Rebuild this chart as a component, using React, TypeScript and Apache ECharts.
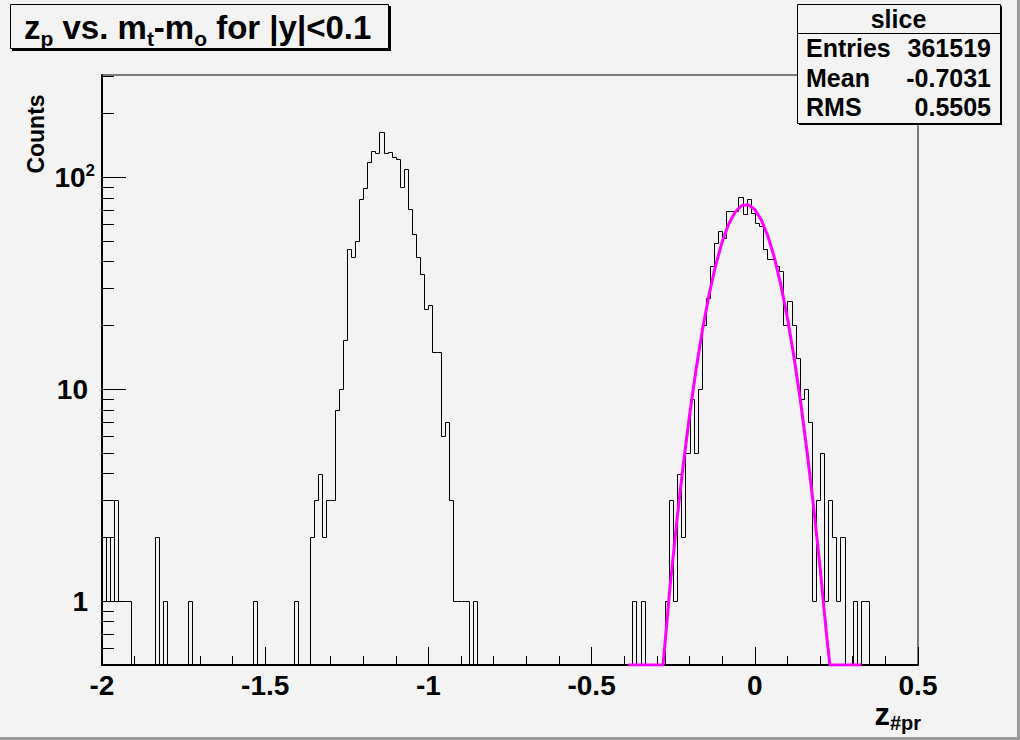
import React, { useEffect, useRef } from 'react';
import * as echarts from 'echarts';

// ---- data ----
const xMin = -2;
const xMax = 0.5;
const binWidth = 0.0125;
const counts = [
  1, 2, 1, 3, 1, 1, 1, 0, 0, 0,
  0, 0, 0, 2, 0, 1, 0, 0, 0, 0,
  0, 1, 0, 0, 0, 0, 0, 0, 0, 0,
  0, 0, 0, 0, 0, 0, 0, 1, 0, 0,
  0, 0, 0, 0, 0, 0, 0, 1, 0, 0,
  0, 2, 3, 4, 2, 3, 3, 8, 10, 17,
  46, 42, 50, 79, 89, 118, 133, 130, 164, 130,
  131, 125, 122, 90, 110, 71, 54, 42, 35, 24,
  25, 15, 15, 6, 7, 3, 1, 1, 1, 1,
  0, 1, 0, 0, 0, 0, 0, 0, 0, 0,
  0, 0, 0, 0, 0, 0, 0, 0, 0, 0,
  0, 0, 0, 0, 0, 0, 0, 0, 0, 0,
  0, 0, 0, 0, 0, 0, 0, 0, 0, 0,
  1, 0, 1, 0, 0, 0, 0, 0, 1, 3,
  1, 4, 2, 5, 9, 5, 10, 20, 27, 38,
  49, 56, 52, 69, 69, 69, 81, 67, 79, 68,
  61, 59, 46, 41, 41, 38, 36, 20, 26, 20,
  14, 9, 10, 7, 1, 3, 5, 1, 3, 2,
  1, 2, 0, 0, 1, 0, 1, 1, 0, 0,
  0, 0, 0, 0, 0, 0, 0, 0, 0, 0,
];
const fitX = [-0.388, -0.281, -0.26, -0.24, -0.22, -0.2, -0.18, -0.16, -0.14, -0.12, -0.1, -0.08, -0.06, -0.04, -0.02, 0.0, 0.02, 0.04, 0.06, 0.08, 0.1, 0.12, 0.14, 0.16, 0.18, 0.2, 0.22, 0.23, 0.327];
const fitY = [0.5, 0.5, 1.16, 2.3, 4.3, 7.5, 12.4, 19.2, 28, 38.4, 49.6, 60.2, 68.6, 73.6, 74.3, 70.5, 63, 52.9, 41.8, 31, 21.7, 14.2, 8.8, 5.1, 2.8, 1.44, 0.69, 0.5, 0.5];
const yMin = 0.5;
const yMax = 304;
const yMajorTicks = [1, 10, 100];
const yMinorTicks = [0.6, 0.7, 0.8, 0.9, 2, 3, 4, 5, 6, 7, 8, 9, 20, 30, 40, 50, 60, 70, 80, 90, 200, 300];
const statNames = ['Entries', 'Mean', 'RMS'];
const statValues = ['361519', '-0.7031', '0.5505'];
const statsTitle = 'slice';

const BG = '#f3f3f3';
const FONT = 'Liberation Sans, Arial, sans-serif';

export default function App() {
  const ref = useRef<HTMLDivElement>(null);
  useEffect(() => {
    if (!ref.current) return;
    const chart = echarts.init(ref.current, null, { renderer: 'svg' });
    const n = counts.length;
    const histData = counts.map((c, i) => [
      xMin + i * binWidth,
      xMin + (i + 1) * binWidth,
      c,
      i > 0 ? counts[i - 1] : 0,
      i === n - 1 ? 1 : 0,
    ]);
    const px = (v: number) => Math.round(v) + 0.5;

    const statsLeft = 797;
    const statsTop = 4;
    const statsW = 203;
    const statsH = 119;
    const graphics: any[] = [
      // canvas bevel
      { type: 'rect', z: 50, shape: { x: 0, y: 737, width: 1020, height: 3 }, style: { fill: '#9a9a9a' }, silent: true },
      { type: 'rect', z: 50, shape: { x: 1017, y: 0, width: 3, height: 740 }, style: { fill: '#9a9a9a' }, silent: true },
      // title box
      { type: 'rect', z: 100, shape: { x: 12, y: 6, width: 379, height: 45 }, style: { fill: '#000' } },
      { type: 'rect', z: 101, shape: { x: 10.5, y: 4.5, width: 378, height: 44 }, style: { fill: BG, stroke: '#000', lineWidth: 1 } },
      {
        type: 'text', z: 102, x: 24, y: 27,
        style: {
          text: '{n|z}{s|p}{n| vs. m}{s|t}{n|-m}{s|o}{n| for |y|<0.1}',
          verticalAlign: 'middle', align: 'left',
          rich: {
            n: { fontSize: 33, fontWeight: 'bold', fontFamily: FONT, fill: '#000', lineHeight: 44 },
            s: { fontSize: 21, fontWeight: 'bold', fontFamily: FONT, fill: '#000', lineHeight: 44, padding: [22, 0, 0, 0] },
          },
        },
      },
      // stats box
      { type: 'rect', z: 100, shape: { x: statsLeft + 2, y: statsTop + 2, width: statsW, height: statsH }, style: { fill: '#000' } },
      { type: 'rect', z: 101, shape: { x: statsLeft + 0.5, y: statsTop + 0.5, width: statsW, height: statsH }, style: { fill: BG, stroke: '#000', lineWidth: 1 } },
      { type: 'line', z: 102, shape: { x1: statsLeft, y1: 33.5, x2: statsLeft + statsW, y2: 33.5 }, style: { stroke: '#000', lineWidth: 1 } },
      {
        type: 'text', z: 102, x: statsLeft + statsW / 2, y: 19,
        style: { text: statsTitle, align: 'center', verticalAlign: 'middle', fontSize: 25, fontWeight: 'bold', fontFamily: FONT, fill: '#000' },
      },
      // y axis title
      {
        type: 'text', z: 102, x: 36, y: 134, rotation: Math.PI / 2,
        style: { text: 'Counts', align: 'center', verticalAlign: 'middle', fontSize: 23, fontWeight: 'bold', fontFamily: FONT, fill: '#000' },
      },
      // x axis title
      {
        type: 'text', z: 102, x: 921, y: 714,
        style: {
          text: '{z|z}{s|#pr}', align: 'right', verticalAlign: 'middle',
          rich: {
            z: { fontSize: 31, fontWeight: 'bold', fontFamily: FONT, fill: '#000', lineHeight: 40 },
            s: { fontSize: 20, fontWeight: 'bold', fontFamily: FONT, fill: '#000', lineHeight: 40, padding: [18, 0, 0, 0] },
          },
        },
      },
    ];
    statNames.forEach((name, i) => {
      const cy = 48 + i * 29.5;
      graphics.push({
        type: 'text', z: 102, x: statsLeft + 9, y: cy,
        style: { text: name, align: 'left', verticalAlign: 'middle', fontSize: 25, fontWeight: 'bold', fontFamily: FONT, fill: '#000' },
      });
      graphics.push({
        type: 'text', z: 102, x: statsLeft + statsW - 9, y: cy,
        style: { text: statValues[i], align: 'right', verticalAlign: 'middle', fontSize: 25, fontWeight: 'bold', fontFamily: FONT, fill: '#000' },
      });
    });

    const labelStyle = { color: '#000', fontSize: 28, fontWeight: 'bold' as const, fontFamily: FONT };

    chart.setOption({
      animation: false,
      backgroundColor: BG,
      grid: {
        left: 102, right: 102, top: 75, bottom: 75,
        show: true, borderColor: '#000', borderWidth: 1, backgroundColor: 'transparent',
        containLabel: false, outerBoundsMode: 'none',
      },
      xAxis: {
        type: 'value', min: xMin, max: xMax, interval: 0.5,
        axisLine: { show: true, onZero: false, lineStyle: { color: '#000', width: 2 } },
        axisTick: { show: true, inside: true, length: 18, lineStyle: { color: '#000', width: 1 } },
        minorTick: { show: true, splitNumber: 5, length: 9, lineStyle: { color: '#000', width: 1 } },
        splitLine: { show: false },
        axisLabel: { ...labelStyle, margin: 6, formatter: (v: number) => String(Math.round(v * 10) / 10) },
      },
      yAxis: [
        {
          type: 'log', logBase: 10, min: yMin, max: yMax, position: 'left',
          axisLine: { show: true, onZero: false, lineStyle: { color: '#000', width: 2 } },
          axisTick: { show: true, inside: true, length: 24, customValues: yMajorTicks, lineStyle: { color: '#000', width: 1 } },
          minorTick: { show: false },
          splitLine: { show: false },
          axisLabel: {
            customValues: yMajorTicks, margin: 7,
            formatter: (v: number) => {
              const r = Math.round(v);
              if (r === 100) return '{b|10}{p|2}';
              return '{b|' + r + '}{q| }';
            },
            rich: {
              b: { ...labelStyle },
              p: { ...labelStyle, fontSize: 17, padding: [0, 0, 14, 0] },
              q: { ...labelStyle, fontSize: 8, width: 7 },
            },
          },
        },
        {
          type: 'log', logBase: 10, min: yMin, max: yMax, position: 'left', offset: 0,
          axisLine: { show: false, onZero: false },
          axisTick: { show: true, inside: true, length: 12, customValues: yMinorTicks, lineStyle: { color: '#000', width: 1 } },
          minorTick: { show: false },
          splitLine: { show: false },
          axisLabel: { show: false },
        },
      ],
      series: [
        {
          type: 'custom',
          xAxisIndex: 0, yAxisIndex: 0,
          clip: true,
          encode: { x: [0, 1], y: 2 },
          data: histData,
          renderItem: (params: any, api: any) => {
            const x0 = api.value(0);
            const x1 = api.value(1);
            const c = api.value(2);
            const p = api.value(3);
            const last = api.value(4);
            const cy = c > 0 ? c : yMin;
            const py = p > 0 ? p : yMin;
            const a = api.coord([x0, py]);
            const b = api.coord([x0, cy]);
            const d = api.coord([x1, cy]);
            const pts = [[px(a[0]), px(a[1])], [px(b[0]), px(b[1])], [px(d[0]), px(d[1])]];
            if (last) {
              const e = api.coord([x1, yMin]);
              pts.push([px(e[0]), px(e[1])]);
            }
            return { type: 'polyline', shape: { points: pts }, style: { stroke: '#000', lineWidth: 1, fill: null } };
          },
          z: 3,
        },
        {
          type: 'line',
          xAxisIndex: 0, yAxisIndex: 0,
          data: fitX.map((x, i) => [x, fitY[i]]),
          showSymbol: false,
          symbol: 'none',
          clip: true,
          lineStyle: { color: '#ff00ff', width: 3 },
          z: 4,
        },
      ],
      graphic: graphics,
    });
    return () => chart.dispose();
  }, []);
  return (
    <div
      ref={ref}
      style={{ position: 'fixed', left: 0, top: 0, width: 1020, height: 740, background: BG }}
    />
  );
}
